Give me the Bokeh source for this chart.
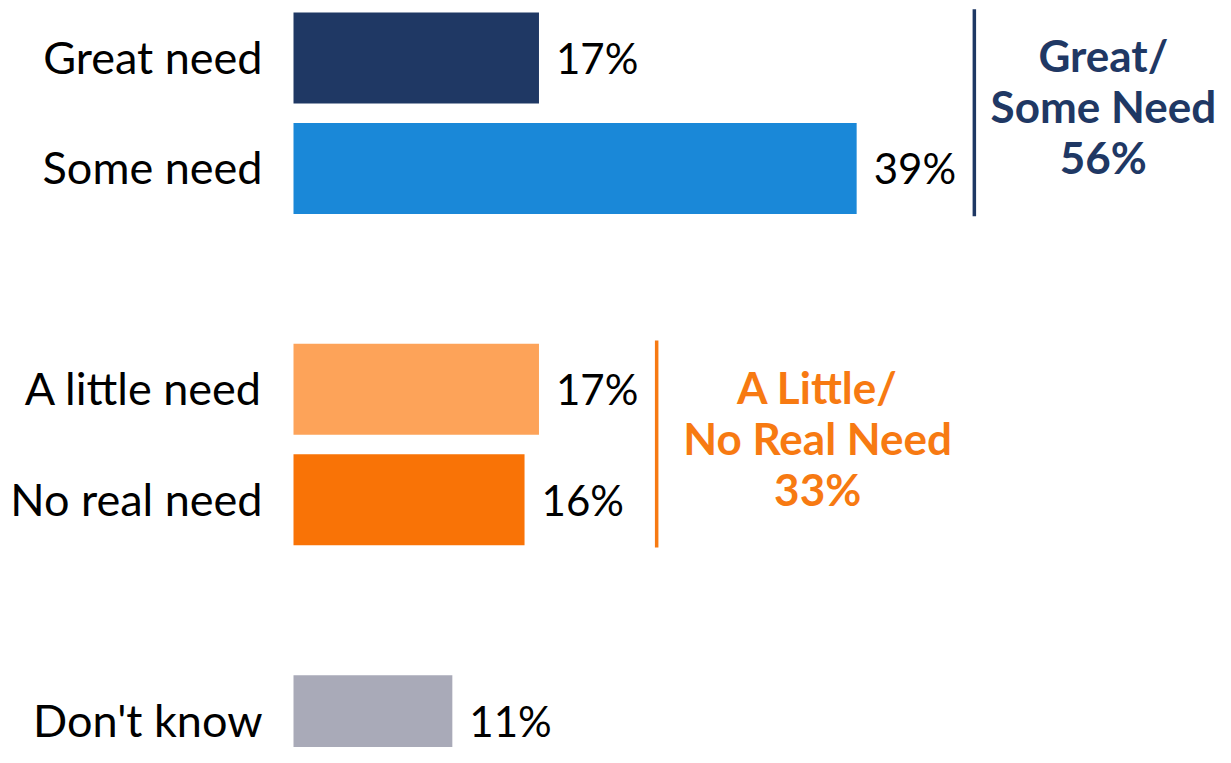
from bokeh.plotting import figure
from bokeh.models import ColumnDataSource, Range1d
from bokeh.core.properties import value
from bokeh.embed import file_html
from bokeh.resources import INLINE

# ---- data ----
categories = ["Great need", "Some need", "A little need", "No real need", "Don't know"]
values = [17, 39, 17, 16, 11]
value_labels = ["17%", "39%", "17%", "16%", "11%"]
groups = [[0, 1], [2, 3], [4]]
summary_groups = [0, 1]
summary_titles = [["Great/", "Some Need"], ["A Little/", "No Real Need"]]
summary_values = ["56%", "33%"]

# ---- styles ----
bar_colors = ["#1F3864", "#1A88D8", "#FDA359", "#F97306", "#A9AAB8"]
summary_colors = ["#1F3864", "#F77A12"]
summary_x_offsets = [129, 161]
FONT = "Lato"
BAR_H = 0.824

# slot positions: a blank slot between groups
slots = []
s = 0
for g in groups:
    for _ in g:
        slots.append(s)
        s += 1
    s += 1

PX_PER_UNIT = 14.44
W, H = 1215, 747
x0 = -293 / PX_PER_UNIT
SLOT_PX = 110.45
y_top = -57.5 / SLOT_PX
y_bot = (H - 57.5) / SLOT_PX

p = figure(width=W, height=H, output_backend="svg", toolbar_location=None,
           x_range=Range1d(x0, x0 + W / PX_PER_UNIT),
           y_range=Range1d(y_bot, y_top),
           x_axis_type=None, y_axis_type=None, min_border=0)
p.grid.visible = False
p.outline_line_color = None
p.background_fill_color = "white"
p.border_fill_color = "white"

src = ColumnDataSource(dict(cat=categories, val=values, lab=value_labels,
                            y=slots, color=bar_colors, zero=[0] * len(values)))

p.hbar(y="y", left=0, right="val", height=BAR_H, color="color", line_color=None, source=src)

p.text(x="zero", y="y", text="cat", source=src, text_align="right", text_baseline="middle",
       x_offset=-31, y_offset=-1, text_font=value(FONT), text_font_size="45px", text_color="black")
p.text(x="val", y="y", text="lab", source=src, text_align="left", text_baseline="middle",
       x_offset=17, y_offset=0, text_font=value(FONT), text_font_size="42px", text_color="black")

# brackets and summaries
for k, gi in enumerate(summary_groups):
    idx = groups[gi]
    ys = [slots[i] for i in idx]
    bx = max(values[i] for i in idx) + 8.15
    y_start = min(ys) - BAR_H / 2 - 0.03
    y_end = max(ys) + BAR_H / 2 + 0.02
    p.segment(x0=[bx], y0=[y_start], x1=[bx], y1=[y_end],
              line_color=summary_colors[k], line_width=3.5)
    lines = summary_titles[k] + [summary_values[k]]
    yc = sum(ys) / len(ys)
    n = len(lines)
    p.text(x=[bx] * n, y=[yc] * n, text=lines,
           x_offset=summary_x_offsets[k],
           y_offset=[(i - (n - 1) / 2) * 51 - 7 for i in range(n)],
           text_align="center", text_baseline="middle",
           text_font=value(FONT), text_font_style="bold", text_font_size="44px",
           text_color=summary_colors[k])

open("out.html", "w").write(file_html(p, INLINE))
